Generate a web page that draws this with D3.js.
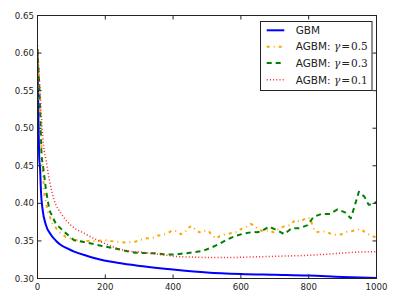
<!DOCTYPE html>
<html><head><meta charset="utf-8">
<script src="https://cdn.jsdelivr.net/npm/d3@7"></script>
<style>body{margin:0;background:#fff}svg{display:block}</style>
</head><body>
<svg id="c" width="404" height="302"></svg>
<script>
const xTicks = [0, 200, 400, 600, 800, 1000];
const yTicks = [0.30, 0.35, 0.40, 0.45, 0.50, 0.55, 0.60, 0.65];

const gbm = [[0,0.60],[1,0.56],[2,0.535],[3,0.505],[5,0.462],[8,0.443],[10,0.418],[15,0.392],[25,0.371],[40,0.358],[55,0.350],[69,0.3446],[88,0.340],[108,0.3357],[147,0.330],[187,0.325],[250,0.320],[317,0.316],[400,0.312],[500,0.308],[600,0.306],[700,0.305],[800,0.304],[900,0.302],[1000,0.3007]];

const agbm05 = [[0,0.605],[2,0.58],[5,0.55],[8,0.51],[13,0.46],[20,0.413],[29,0.391],[44,0.373],[64,0.362],[84,0.355],[113,0.351],[141,0.350],[170,0.350],[200,0.351],[230,0.349],[260,0.348],[288,0.349],[308,0.352],[324,0.3535],[340,0.354],[354,0.357],[370,0.358],[383,0.360],[396,0.3636],[411,0.363],[423,0.359],[435,0.3615],[443,0.367],[455,0.370],[465,0.3655],[477,0.3615],[489,0.3636],[504,0.3636],[514,0.358],[527,0.353],[538,0.3566],[553,0.359],[568,0.360],[590,0.362],[602,0.3663],[617,0.369],[629,0.3725],[642,0.370],[652,0.3645],[668,0.363],[681,0.3645],[696,0.3615],[715,0.367],[730,0.370],[746,0.371],[760,0.378],[775,0.3756],[794,0.381],[804,0.380],[814,0.367],[823,0.3615],[838,0.363],[853,0.362],[868,0.359],[882,0.358],[897,0.359],[912,0.362],[927,0.363],[941,0.3645],[954,0.366],[966,0.3615],[980,0.358],[993,0.3556],[1000,0.354]];

const agbm03 = [[0,0.605],[2,0.585],[5,0.56],[8,0.52],[12,0.462],[18,0.444],[25,0.418],[35,0.391],[54,0.373],[79,0.362],[108,0.351],[147,0.3477],[187,0.3437],[229,0.340],[258,0.337],[288,0.3343],[317,0.334],[352,0.3335],[376,0.332],[406,0.332],[435,0.3335],[462,0.335],[487,0.3366],[512,0.341],[536,0.346],[560,0.352],[586,0.357],[610,0.360],[637,0.362],[647,0.3615],[661,0.363],[683,0.369],[705,0.3645],[728,0.359],[750,0.367],[774,0.367],[797,0.371],[814,0.382],[838,0.386],[863,0.386],[885,0.392],[907,0.388],[924,0.380],[935,0.3956],[948,0.4155],[964,0.409],[977,0.398],[993,0.400],[1000,0.402]];

const agbm01 = [[0,0.61],[3,0.585],[8,0.545],[13,0.505],[18,0.476],[25,0.458],[35,0.431],[49,0.4045],[69,0.387],[98,0.371],[138,0.360],[177,0.351],[210,0.3445],[229,0.341],[248,0.3385],[268,0.3366],[308,0.335],[340,0.333],[380,0.331],[420,0.329],[460,0.3285],[500,0.328],[540,0.328],[580,0.328],[620,0.3285],[660,0.329],[700,0.3295],[740,0.330],[780,0.3305],[820,0.3315],[860,0.3325],[900,0.334],[940,0.335],[980,0.3355],[1000,0.3355]];

const series = [
  {name:"GBM", gamma:null, data:gbm, color:"#0000ff", width:2, dash:null, smooth:true},
  {name:"AGBM: ", gamma:"0.5", data:agbm05, color:"#ffa500", width:2, dash:"3,4,1,4", smooth:false},
  {name:"AGBM: ", gamma:"0.3", data:agbm03, color:"#008000", width:2, dash:"5,4", smooth:false},
  {name:"AGBM: ", gamma:"0.1", data:agbm01, color:"#ff2020", width:1.5, dash:"1,2.2", smooth:true}
];

const L = 37.5, R = 376.5, T = 15.5, B = 278.5;
const x = d3.scaleLinear().domain([0,1000]).range([L,R]);
const y = d3.scaleLinear().domain([0.30,0.65]).range([B,T]);
const svg = d3.select("#c");

svg.append("clipPath").attr("id","clp").append("rect")
  .attr("x",L).attr("y",T).attr("width",R-L).attr("height",B-T);

const gl = svg.append("g").attr("clip-path","url(#clp)");
series.forEach(s=>{
  const line = d3.line().x(d=>x(d[0])).y(d=>y(d[1]))
    .curve(s.smooth ? d3.curveMonotoneX : d3.curveLinear);
  gl.append("path").attr("d",line(s.data)).attr("fill","none")
    .attr("stroke",s.color).attr("stroke-width",s.width)
    .attr("stroke-dasharray",s.dash).attr("stroke-linejoin","round");
});

svg.append("rect").attr("x",L).attr("y",T).attr("width",R-L).attr("height",B-T)
  .attr("fill","none").attr("stroke","#222").attr("stroke-width",1);

const tk = 4;
const axFont = "DejaVu Sans";
const gx = svg.append("g");
xTicks.forEach(v=>{
  gx.append("line").attr("x1",x(v)).attr("x2",x(v)).attr("y1",B).attr("y2",B-tk).attr("stroke","#222");
  gx.append("line").attr("x1",x(v)).attr("x2",x(v)).attr("y1",T).attr("y2",T+tk).attr("stroke","#222");
  gx.append("text").attr("x",x(v)).attr("y",B+11).attr("text-anchor","middle")
    .attr("font-family",axFont).attr("font-size",8.6).attr("fill","#222").text(d3.format("d")(v));
});
const gy = svg.append("g");
yTicks.forEach(v=>{
  gy.append("line").attr("y1",y(v)).attr("y2",y(v)).attr("x1",L).attr("x2",L+tk).attr("stroke","#222");
  gy.append("line").attr("y1",y(v)).attr("y2",y(v)).attr("x1",R).attr("x2",R-tk).attr("stroke","#222");
  gy.append("text").attr("x",L-3.5).attr("y",y(v)).attr("dy","0.35em").attr("text-anchor","end")
    .attr("font-family",axFont).attr("font-size",8.6).attr("fill","#222").text(d3.format(".2f")(v));
});

const lg = svg.append("g");
lg.append("rect").attr("x",260.5).attr("y",21.5).attr("width",111.5).attr("height",69)
  .attr("fill","#fff").attr("stroke","#222").attr("stroke-width",1);
const rowY = [30.3, 46.7, 62.9, 79.8];
series.forEach((s,i)=>{
  lg.append("line").attr("x1",266.7).attr("x2",284.3).attr("y1",rowY[i]).attr("y2",rowY[i])
    .attr("stroke",s.color).attr("stroke-width",s.width).attr("stroke-dasharray",s.dash);
  const t = lg.append("text").attr("x",295.7).attr("y",rowY[i]).attr("dy","0.36em")
    .attr("font-family",axFont).attr("font-size",10.5).attr("fill","#222");
  t.append("tspan").text(s.name);
  if (s.gamma){
    t.append("tspan").attr("font-family","DejaVu Serif").attr("font-style","italic").text("γ");
    t.append("tspan").attr("font-family","DejaVu Serif").attr("dx",1).text("=");
    t.append("tspan").attr("font-family","DejaVu Serif").attr("dx",1).text(s.gamma);
  }
});
</script>
</body></html>
